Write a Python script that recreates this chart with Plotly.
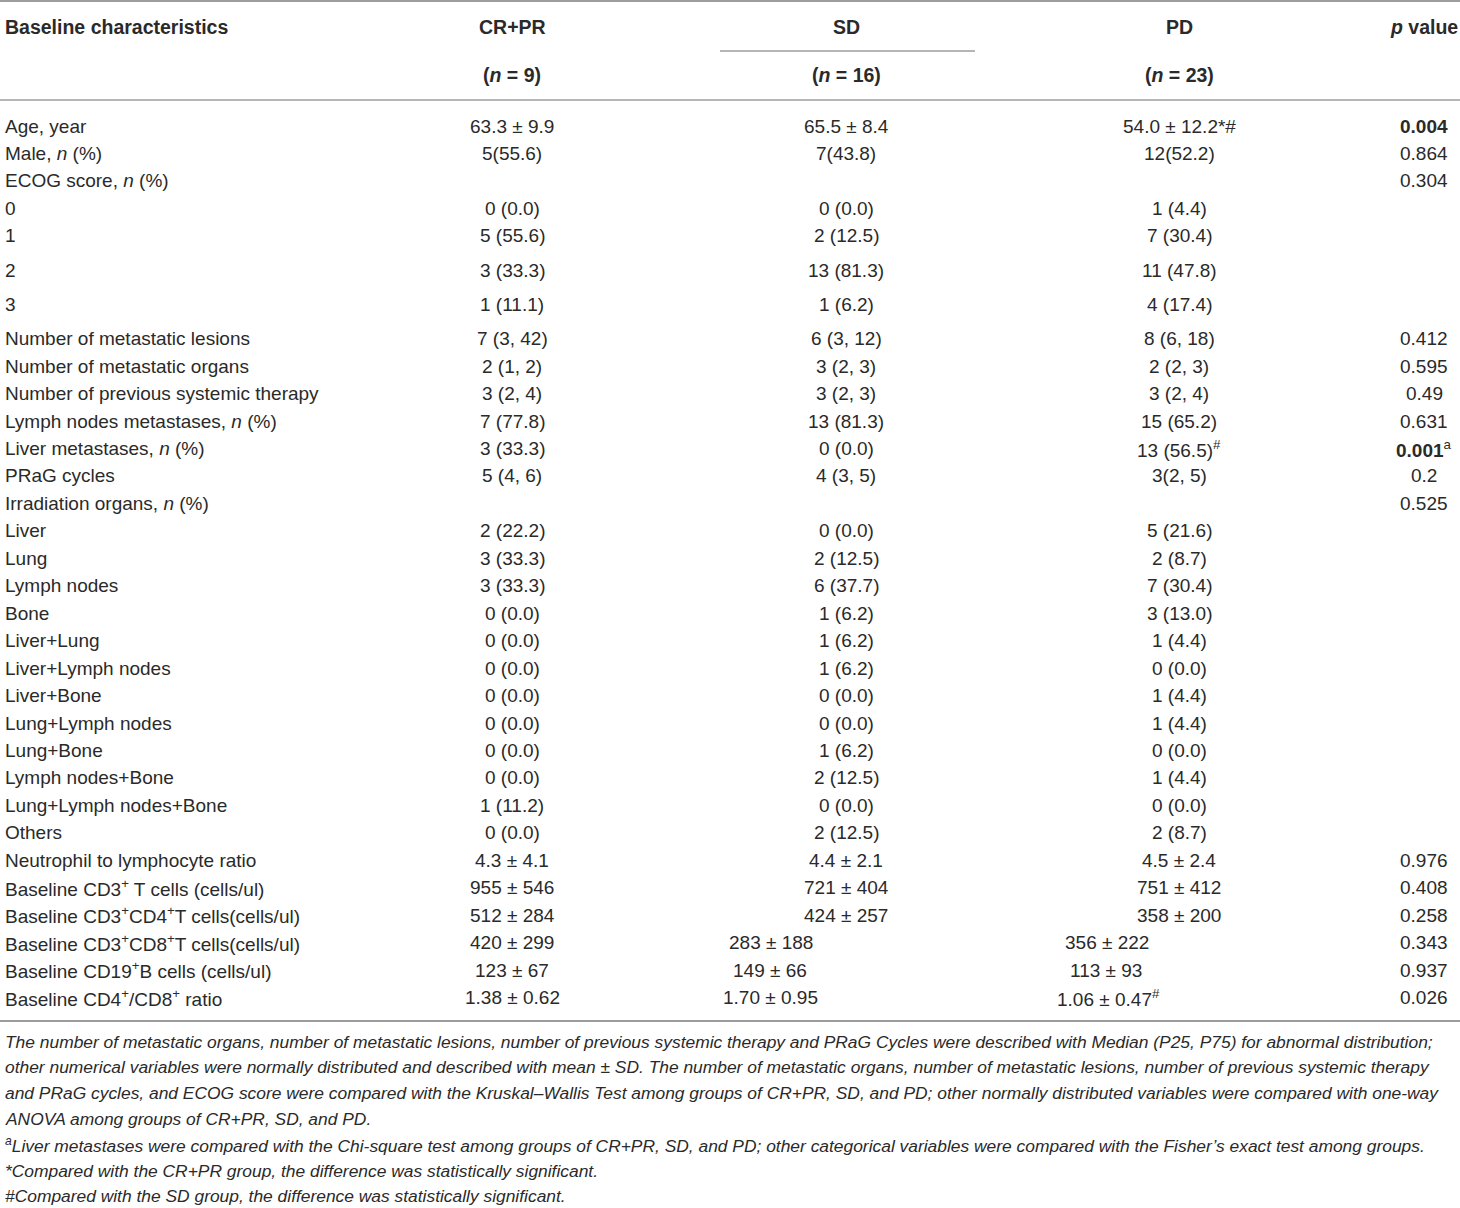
import plotly.graph_objects as go

# ---- table content ----
labels = [
    "Age, year", "Male, <i>n</i> (%)", "ECOG score, <i>n</i> (%)", "0", "1", "2", "3",
    "Number of metastatic lesions", "Number of metastatic organs",
    "Number of previous systemic therapy", "Lymph nodes metastases, <i>n</i> (%)",
    "Liver metastases, <i>n</i> (%)", "PRaG cycles", "Irradiation organs, <i>n</i> (%)",
    "Liver", "Lung", "Lymph nodes", "Bone", "Liver+Lung", "Liver+Lymph nodes",
    "Liver+Bone", "Lung+Lymph nodes", "Lung+Bone", "Lymph nodes+Bone",
    "Lung+Lymph nodes+Bone", "Others", "Neutrophil to lymphocyte ratio",
    "Baseline CD3<sup>+</sup> T cells (cells/ul)",
    "Baseline CD3<sup>+</sup>CD4<sup>+</sup>T cells(cells/ul)",
    "Baseline CD3<sup>+</sup>CD8<sup>+</sup>T cells(cells/ul)",
    "Baseline CD19<sup>+</sup>B cells (cells/ul)",
    "Baseline CD4<sup>+</sup>/CD8<sup>+</sup> ratio",
]
cr_pr = [
    "63.3 ± 9.9", "5(55.6)", "", "0 (0.0)", "5 (55.6)", "3 (33.3)", "1 (11.1)",
    "7 (3, 42)", "2 (1, 2)", "3 (2, 4)", "7 (77.8)", "3 (33.3)", "5 (4, 6)", "",
    "2 (22.2)", "3 (33.3)", "3 (33.3)", "0 (0.0)", "0 (0.0)", "0 (0.0)", "0 (0.0)",
    "0 (0.0)", "0 (0.0)", "0 (0.0)", "1 (11.2)", "0 (0.0)", "4.3 ± 4.1",
    "955 ± 546", "512 ± 284", "420 ± 299", "123 ± 67", "1.38 ± 0.62",
]
sd = [
    "65.5 ± 8.4", "7(43.8)", "", "0 (0.0)", "2 (12.5)", "13 (81.3)", "1 (6.2)",
    "6 (3, 12)", "3 (2, 3)", "3 (2, 3)", "13 (81.3)", "0 (0.0)", "4 (3, 5)", "",
    "0 (0.0)", "2 (12.5)", "6 (37.7)", "1 (6.2)", "1 (6.2)", "1 (6.2)", "0 (0.0)",
    "0 (0.0)", "1 (6.2)", "2 (12.5)", "0 (0.0)", "2 (12.5)", "4.4 ± 2.1",
    "721 ± 404", "424 ± 257", "283 ± 188", "149 ± 66", "1.70 ± 0.95",
]
pd_ = [
    "54.0 ± 12.2*#", "12(52.2)", "", "1 (4.4)", "7 (30.4)", "11 (47.8)", "4 (17.4)",
    "8 (6, 18)", "2 (2, 3)", "3 (2, 4)", "15 (65.2)", "13 (56.5)<sup>#</sup>", "3(2, 5)", "",
    "5 (21.6)", "2 (8.7)", "7 (30.4)", "3 (13.0)", "1 (4.4)", "0 (0.0)", "1 (4.4)",
    "1 (4.4)", "0 (0.0)", "1 (4.4)", "0 (0.0)", "2 (8.7)", "4.5 ± 2.4",
    "751 ± 412", "358 ± 200", "356 ± 222", "113 ± 93", "1.06 ± 0.47<sup>#</sup>",
]
p_values = [
    "<b>0.004</b>", "0.864", "0.304", "", "", "", "", "0.412", "0.595", "0.49",
    "0.631", "<b>0.001</b><sup>a</sup>", "0.2", "0.525", "", "", "", "", "", "",
    "", "", "", "", "", "", "0.976", "0.408", "0.258", "0.343", "0.937", "0.026",
]
headers = ["Baseline characteristics", "CR+PR", "SD", "PD", "<i>p</i> value"]
group_n = ["(<i>n</i> = 9)", "(<i>n</i> = 16)", "(<i>n</i> = 23)"]
footnotes = [
    "The number of metastatic organs, number of metastatic lesions, number of previous systemic therapy and PRaG Cycles were described with Median (P25, P75) for abnormal distribution;",
    "other numerical variables were normally distributed and described with mean ± SD. The number of metastatic organs, number of metastatic lesions, number of previous systemic therapy",
    "and PRaG cycles, and ECOG score were compared with the Kruskal–Wallis Test among groups of CR+PR, SD, and PD; other normally distributed variables were compared with one-way",
    "ANOVA among groups of CR+PR, SD, and PD.",
    "<sup>a</sup>Liver metastases were compared with the Chi-square test among groups of CR+PR, SD, and PD; other categorical variables were compared with the Fisher’s exact test among groups.",
    "*Compared with the CR+PR group, the difference was statistically significant.",
    "#Compared with the SD group, the difference was statistically significant.",
]

# ---- layout ----
W, H = 1460, 1208
FONT = "Liberation Sans, Arial, sans-serif"
TXT = "#2a2a2a"
LINE = "#9c9c9c"
col_x = [3, 512, 846, 1179, 1424]
# a few cells in the source are set off-centre
shift_rows = {29: (-75, -72), 30: (-76, -73), 31: (-76, -71)}
note_y = [1042, 1067, 1093, 1119, 1145, 1171, 1196]

row_y = [126]
for i in range(1, len(labels)):
    row_y.append(row_y[-1] + (34.3 if i in (5, 6, 7) else 27.45))

fig = go.Figure()
fig.update_layout(
    width=W, height=H, margin=dict(l=0, r=0, t=0, b=0),
    paper_bgcolor="white", plot_bgcolor="white", showlegend=False,
    xaxis=dict(range=[0, W], visible=False, fixedrange=True),
    yaxis=dict(range=[H, 0], visible=False, fixedrange=True),
)


def add_text(x, y, text, anchor="center", size=19, italic=False):
    if not text:
        return
    fig.add_annotation(
        x=x, y=y, text=text, showarrow=False, xanchor=anchor, yanchor="middle",
        font=dict(family=FONT, size=size, color=TXT,
                  style="italic" if italic else "normal"),
    )


# header
add_text(col_x[0], 27, "<b>" + headers[0] + "</b>", "left", size=19.5)
for j in range(1, 5):
    add_text(col_x[j], 27, "<b>" + headers[j] + "</b>", size=19.5)
for j in range(3):
    add_text(col_x[j + 1], 75, "<b>" + group_n[j] + "</b>", size=19.5)

# body
for i, lab in enumerate(labels):
    y = row_y[i]
    add_text(col_x[0], y, lab, "left")
    s1, s2 = shift_rows.get(i, (0, 0))
    add_text(col_x[1], y, cr_pr[i])
    add_text(col_x[2] + s1, y, sd[i])
    add_text(col_x[3] + s2, y, pd_[i])
    add_text(col_x[4], y, p_values[i])

# footnotes
for k, note in enumerate(footnotes):
    add_text(col_x[0], note_y[k], note, "left", size=17.4, italic=True)

# rules
for y0, x0, x1, w in [(1, 0, W, 2), (100, 0, W, 1.5),
                      (51, 720, 975, 1.5), (1021, 0, W, 2)]:
    fig.add_shape(type="line", x0=x0, x1=x1, y0=y0, y1=y0, xref="x", yref="y",
                  line=dict(color=LINE, width=w))

# drop the browser's default 8px page margin so the figure fills the window
fig.write_html("out.html", config={"displayModeBar": False},
               post_script="document.body.style.margin = '0';")
